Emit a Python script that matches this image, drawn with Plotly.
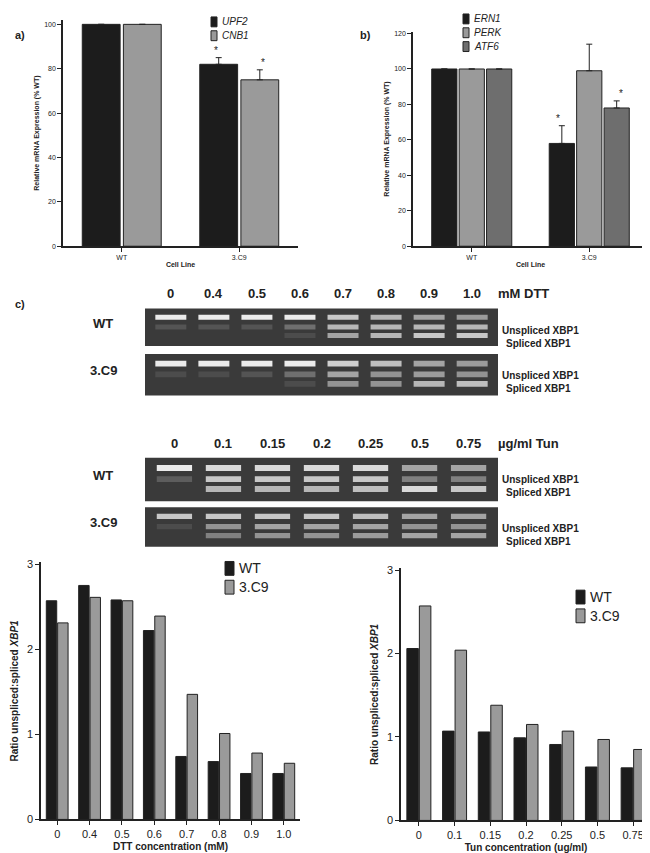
import plotly.graph_objects as go

W, H = 650, 853
# ---- data ----
cells = ["WT", "3.C9"]
upf2 = [100, 82]; upf2_err = [0, 3]
cnb1 = [100, 75]; cnb1_err = [0, 4.5]
ern1 = [100, 58]; ern1_err = [0, 10]
perk = [100, 99]; perk_err = [0, 15]
atf6 = [100, 78]; atf6_err = [0, 4]

dtt = ["0", "0.4", "0.5", "0.6", "0.7", "0.8", "0.9", "1.0"]
dtt_wt = [2.57, 2.75, 2.58, 2.22, 0.74, 0.68, 0.54, 0.54]
dtt_c9 = [2.31, 2.61, 2.57, 2.39, 1.47, 1.01, 0.78, 0.66]
tun = ["0", "0.1", "0.15", "0.2", "0.25", "0.5", "0.75"]
tun_wt = [2.06, 1.07, 1.06, 0.99, 0.91, 0.64, 0.63]
tun_c9 = [2.57, 2.04, 1.38, 1.15, 1.07, 0.97, 0.85]

# gel band intensities (unspliced, hybrid, spliced) per lane
gel_dtt_wt = ([1, 1, 1, 1, .8, .7, .6, .55], [.15, .15, .15, .3, .7, .7, .7, .7], [0, 0, 0, .1, .6, .7, .8, .8])
gel_dtt_c9 = ([1, 1, 1, 1, .85, .75, .6, .55], [.1, .1, .15, .3, .6, .5, .55, .5], [0, 0, 0, .1, .5, .5, .7, .75])
gel_tun_wt = ([1, .9, .9, .9, .9, .6, .6], [.2, .8, .8, .8, .8, .4, .4], [0, .7, .7, .7, .75, .9, .8])
gel_tun_c9 = ([.8, .8, .8, .8, .75, .6, .6], [.1, .5, .6, .6, .6, .5, .5], [0, .4, .5, .5, .55, .6, .6])

BLACK = "#1c1c1c"; GRAY = "#9a9a9a"; DGRAY = "#6e6e6e"
FONT = "Liberation Sans"

def px(x): return x / W
def py(y): return 1 - y / H

fig = go.Figure()
ann = []
shapes = []

def bar(name, x, y, color, xa, ya, err=None):
    fig.add_trace(go.Bar(name=name, x=x, y=y, marker=dict(color=color, line=dict(color="#222", width=1)),
                         error_y=dict(type="data", array=err, visible=True, color="#222", thickness=1, width=3, symmetric=False) if err else None,
                         xaxis=xa, yaxis=ya, showlegend=False))

bar("UPF2", cells, upf2, BLACK, "x", "y", upf2_err)
bar("CNB1", cells, cnb1, GRAY, "x", "y", cnb1_err)
bar("ERN1", cells, ern1, BLACK, "x2", "y2", ern1_err)
bar("PERK", cells, perk, GRAY, "x2", "y2", perk_err)
bar("ATF6", cells, atf6, DGRAY, "x2", "y2", atf6_err)
bar("WT", dtt, dtt_wt, BLACK, "x3", "y3")
bar("3.C9", dtt, dtt_c9, GRAY, "x3", "y3")
bar("WT", tun, tun_wt, BLACK, "x4", "y4")
bar("3.C9", tun, tun_c9, GRAY, "x4", "y4")

ax = dict(showgrid=False, zeroline=False, showline=True, linecolor="#222", linewidth=1.5,
          ticks="outside", ticklen=4, tickcolor="#222", tickfont=dict(size=7, family=FONT, color="#222"))
bt = dict(size=11, family="Liberation Sans", color="#222")
lay = dict(
    xaxis=dict(ax, domain=[px(55), px(290)], anchor="y", title=dict(text="<b>Cell Line</b>", font=dict(size=7, color="#222"), standoff=2)),
    yaxis=dict(ax, domain=[py(237), py(8)], anchor="x", range=[0, 102], dtick=20, title=dict(text="<b>Relative mRNA Expression (% WT)</b>", font=dict(size=7, color="#222"), standoff=4)),
    xaxis2=dict(ax, domain=[px(405), px(640)], anchor="y2", title=dict(text="<b>Cell Line</b>", font=dict(size=7, color="#222"), standoff=2)),
    yaxis2=dict(ax, domain=[py(237), py(20)], anchor="x2", range=[0, 121], dtick=20, title=dict(text="<b>Relative mRNA Expression (% WT)</b>", font=dict(size=7, color="#222"), standoff=4)),
    xaxis3=dict(ax, domain=[px(33), px(292)], anchor="y3", tickfont=bt,
                title=dict(text="<b>DTT concentration (mM)</b>", font=dict(size=10, color="#222"), standoff=4)),
    yaxis3=dict(ax, domain=[py(817), py(557)], anchor="x3", range=[0, 3.02], dtick=1, tickfont=bt,
                title=dict(text="<b>Ratio unspliced:spliced <i>XBP1</i></b>", font=dict(size=10, color="#222"), standoff=6)),
    xaxis4=dict(ax, domain=[px(393), px(643)], anchor="y4", tickfont=bt,
                title=dict(text="<b>Tun concentration (ug/ml)</b>", font=dict(size=10, color="#222"), standoff=4)),
    yaxis4=dict(ax, domain=[py(818), py(563)], anchor="x4", range=[0, 3.02], dtick=1, tickfont=bt,
                title=dict(text="<b>Ratio unspliced:spliced <i>XBP1</i></b>", font=dict(size=10, color="#222"), standoff=6)),
)

gels = [(gel_dtt_wt, dtt, 300, 338, "WT"), (gel_dtt_c9, dtt, 346, 388, "3.C9"),
        (gel_tun_wt, tun, 451, 495, "WT"), (gel_tun_c9, tun, 501, 541, "3.C9")]
for i, (g, labels, y0, y1, nm) in enumerate(gels):
    k = i + 5
    xa, ya = f"x{k}", f"y{k}"
    n = len(labels)
    lanes = list(range(n))
    lay[f"xaxis{k}"] = dict(domain=[px(137), px(490)], anchor=ya, range=[-0.6, n - 0.4], visible=False)
    lay[f"yaxis{k}"] = dict(domain=[py(y1), py(y0)], anchor=xa, range=[-0.3, 3.0], visible=False)
    shapes.append(dict(type="rect", xref=f"{xa} domain", yref=f"{ya} domain", x0=0, x1=1, y0=0, y1=1,
                       fillcolor="#3a3a3a", line=dict(width=0), layer="below"))
    for band, ypos in zip(g, [2.0, 1.15, 0.4]):
        cols = [f"rgba(235,235,235,{v:.2f})" for v in band]
        fig.add_trace(go.Bar(x=lanes, y=[0.45] * n, base=[ypos] * n, width=0.72, offsetgroup="gel",
                             marker=dict(color=cols, line=dict(width=0)),
                             xaxis=xa, yaxis=ya, showlegend=False, hoverinfo="skip"))
    ann.append(dict(text=f"<b>{nm}</b>", x=px(95), y=py((y0 + y1) / 2 - 4), xref="paper", yref="paper",
                    showarrow=False, xanchor="center", font=dict(size=13)))
    ann.append(dict(text="<b>Unspliced XBP1</b>", x=px(492), y=py(y0 + 22), xref="paper", yref="paper",
                    showarrow=False, xanchor="left", font=dict(size=10)))
    ann.append(dict(text="<b>Spliced XBP1</b>", x=px(496), y=py(y0 + 35), xref="paper", yref="paper",
                    showarrow=False, xanchor="left", font=dict(size=10)))

for labels, yh, unit, kx in [(dtt, 285, "mM DTT", 5), (tun, 437, "µg/ml Tun", 7)]:
    n = len(labels)
    for j, l in enumerate(labels):
        ann.append(dict(text=f"<b>{l}</b>", x=j, y=py(yh), xref=f"x{kx}", yref="paper", showarrow=False, font=dict(size=13)))
    ann.append(dict(text=f"<b>{unit}</b>", x=n - 0.45, y=py(yh), xref=f"x{kx}", yref="paper", showarrow=False,
                    xanchor="left", font=dict(size=13)))

for t, x, y in [("a)", 5, 15), ("b)", 350, 15), ("c)", 5, 295)]:
    ann.append(dict(text=f"<b>{t}</b>", x=px(x), y=py(y), xref="paper", yref="paper", showarrow=False, xanchor="left", font=dict(size=11)))

for xa, ya, vals, errs, offs in [("x", "y", [upf2[1], cnb1[1]], [upf2_err[1], cnb1_err[1]], [-0.2, 0.2]),
                                 ("x2", "y2", [ern1[1], atf6[1]], [ern1_err[1], atf6_err[1]], [-0.27, 0.27])]:
    for v, e, o in zip(vals, errs, offs):
        ann.append(dict(text="*", x=1 + o, y=v + e, xref=xa, yref=ya, showarrow=False, yanchor="bottom",
                        font=dict(size=10, color="#222")))

def legend(items, x, y, size, dy, sw):
    for j, (name, col, txt) in enumerate(items):
        yy = y + j * dy
        shapes.append(dict(type="rect", xref="paper", yref="paper", x0=px(x), x1=px(x + sw), y0=py(yy + size), y1=py(yy),
                           fillcolor=col, line=dict(color="#222", width=1)))
        ann.append(dict(text=txt, x=px(x + sw + 3), y=py(yy + size / 2), xref="paper", yref="paper", showarrow=False,
                        xanchor="left", yanchor="middle", font=dict(size=size, color="#222")))

legend([("UPF2", BLACK, "<i>UPF2</i>"), ("CNB1", GRAY, "<i>CNB1</i>")], 203, 5, 10, 14, 6)
legend([("ERN1", BLACK, "<i>ERN1</i>"), ("PERK", GRAY, "<i>PERK</i>"), ("ATF6", DGRAY, "<i>ATF6</i>")], 455, 2, 10, 14, 6)
legend([("WT", BLACK, "WT"), ("3.C9", GRAY, "3.C9")], 217, 556, 14, 19, 9)
legend([("WT", BLACK, "WT"), ("3.C9", GRAY, "3.C9")], 568, 585, 14, 19, 9)

fig.update_layout(width=W, height=H, margin=dict(l=0, r=0, t=0, b=0), plot_bgcolor="white", paper_bgcolor="white",
                  barmode="group", bargap=0.3, bargroupgap=0.08, font=dict(family=FONT, color="#222"),
                  annotations=ann, shapes=shapes, **lay)
fig.write_html("out.html")
